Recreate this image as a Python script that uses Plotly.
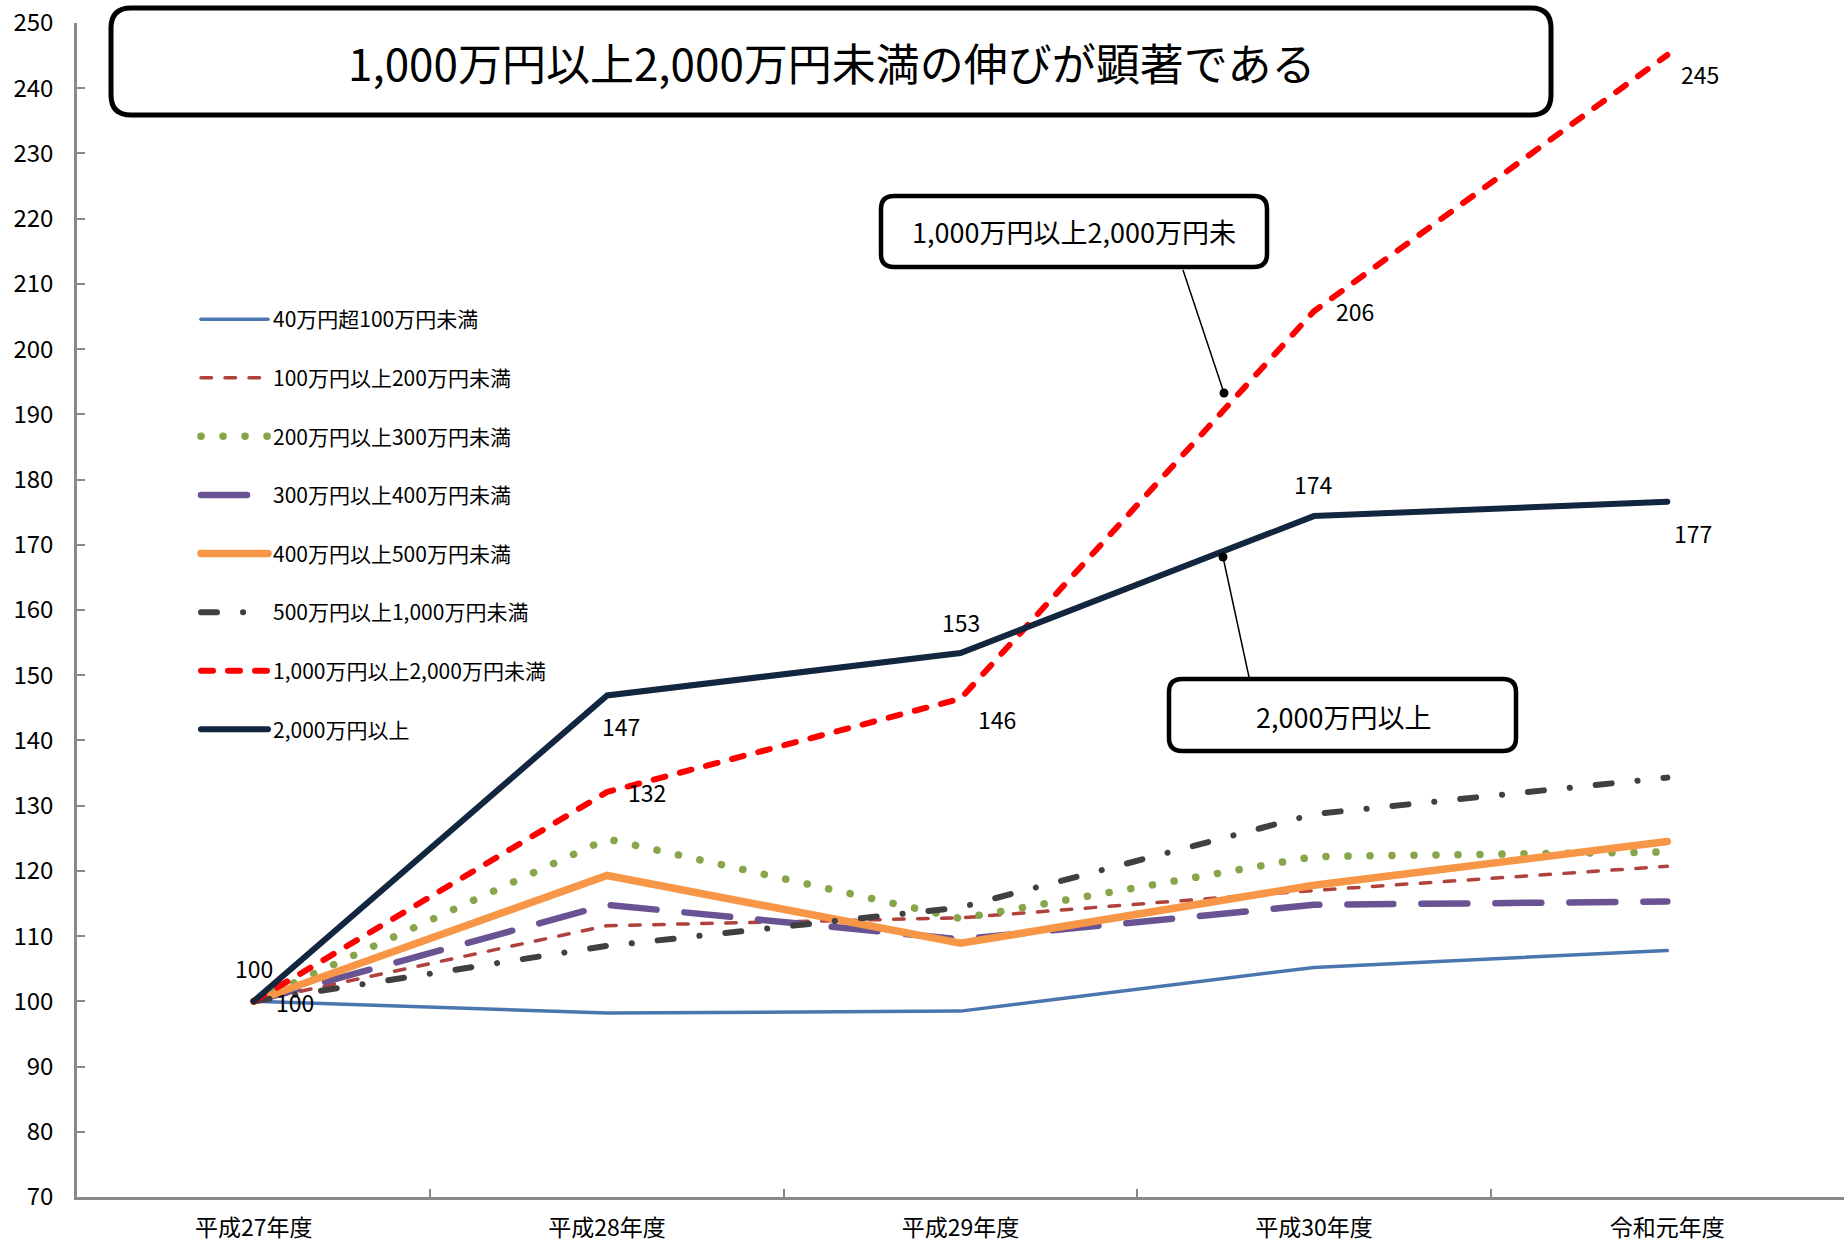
import plotly.graph_objects as go

# Fiscal years on the category axis
years = ["平成27年度", "平成28年度", "平成29年度", "平成30年度", "令和元年度"]

# Index (平成27年度 = 100) by income bracket
s_40_100 = [100, 98.2, 98.5, 105.2, 107.8]
s_100_200 = [100, 111.6, 112.8, 117.0, 120.7]
s_200_300 = [100, 124.9, 112.7, 122.2, 122.9]
s_300_400 = [100, 114.8, 109.5, 114.8, 115.3]
s_400_500 = [100, 119.3, 108.9, 117.8, 124.5]
s_500_1000 = [100, 108.5, 114.4, 128.7, 134.3]
s_1000_2000 = [100, 132.1, 146.4, 205.8, 245.1]
s_2000 = [100, 146.9, 153.4, 174.4, 176.6]

names = [
    "40万円超100万円未満",
    "100万円以上200万円未満",
    "200万円以上300万円未満",
    "300万円以上400万円未満",
    "400万円以上500万円未満",
    "500万円以上1,000万円未満",
    "1,000万円以上2,000万円未満",
    "2,000万円以上",
]
series = [s_40_100, s_100_200, s_200_300, s_300_400, s_400_500,
          s_500_1000, s_1000_2000, s_2000]

styles = [
    dict(color="#4A76B0", width=3.5, dash="solid"),
    dict(color="#B0423E", width=3.5, dash="10.5px,13.5px"),
    dict(color="#87A64A", width=7.5, dash="0.1px,21.9px"),
    dict(color="#6A5393", width=6.5, dash="46px,28px"),
    dict(color="#F79646", width=7.5, dash="solid"),
    dict(color="#404040", width=6, dash="16px,26px,0.1px,26px"),
    dict(color="#FF0000", width=6, dash="12px,15px"),
    dict(color="#12263F", width=6, dash="solid"),
]

# pixel offsets of the value labels for the two highest brackets
label_shift = {
    6: [(41, -1), (40, 0), (36, -20), (41, 0), (33, -19)],
    7: [(0, 33), (14, -31), (0, 31), (0, 32), (26, -31)],
}

FONT = "Noto Sans CJK JP"

fig = go.Figure()
for name, vals, st in zip(names, series, styles):
    fig.add_trace(go.Scatter(
        x=years, y=vals, name=name, legendgroup=name, mode="lines",
        line=dict(color=st["color"], width=st["width"], dash=st["dash"]),
        hoverinfo="skip"))

W, H = 1846, 1245
ML, MR, MT, MB = 77, 2, 23, 48
PW, PH = W - ML - MR, H - MT - MB


def px(x):
    return (x - ML) / PW


def py(y):
    return 1 - (y - MT) / PH


def rounded_box(x0, y0, x1, y1, r, lw):
    rx, ry = r / PW, r / PH
    a, b, c, d = px(x0), py(y0), px(x1), py(y1)
    path = (f"M{a+rx},{b} L{c-rx},{b} Q{c},{b} {c},{b-ry} "
            f"L{c},{d+ry} Q{c},{d} {c-rx},{d} "
            f"L{a+rx},{d} Q{a},{d} {a},{d+ry} "
            f"L{a},{b-ry} Q{a},{b} {a+rx},{b} Z")
    return dict(type="path", xref="paper", yref="paper", path=path,
                fillcolor="white", line=dict(color="black", width=lw),
                layer="above")


shapes = [
    rounded_box(111, 8, 1551, 115, 20, 5),
    rounded_box(881, 196, 1267, 267, 13, 4.5),
    rounded_box(1169, 679, 1516, 751, 13, 4.5),
    dict(type="line", xref="paper", yref="paper",
         x0=px(1183), y0=py(270), x1=px(1224), y1=py(393),
         line=dict(color="black", width=1.5)),
    dict(type="line", xref="paper", yref="paper",
         x0=px(1223), y0=py(557), x1=px(1249), y1=py(677),
         line=dict(color="black", width=1.5)),
    dict(type="circle", xref="paper", yref="paper",
         x0=px(1219.5), y0=py(388.5), x1=px(1228.5), y1=py(397.5),
         fillcolor="black", line=dict(color="black", width=0)),
    dict(type="circle", xref="paper", yref="paper",
         x0=px(1218.5), y0=py(552.5), x1=px(1227.5), y1=py(561.5),
         fillcolor="black", line=dict(color="black", width=0)),
]

annotations = [
    dict(xref="paper", yref="paper", x=px(831), y=py(62),
         text="1,000万円以上2,000万円未満の伸びが顕著である", showarrow=False,
         font=dict(family=FONT, size=44, color="#000000"),
         xanchor="center", yanchor="middle"),
    dict(xref="paper", yref="paper", x=px(1074), y=py(232),
         text="1,000万円以上2,000万円未", showarrow=False,
         font=dict(family=FONT, size=27, color="#000000"),
         xanchor="center", yanchor="middle"),
    dict(xref="paper", yref="paper", x=px(1343), y=py(716),
         text="2,000万円以上", showarrow=False,
         font=dict(family=FONT, size=27, color="#000000"),
         xanchor="center", yanchor="middle"),
]

# value labels, placed at each data point and formatted from its value
for idx, shifts in label_shift.items():
    for cat, val, (dx, dy) in zip(years, series[idx], shifts):
        annotations.append(dict(
            x=cat, y=val, xref="x", yref="y", text=f"{val:.0f}",
            showarrow=False, xshift=dx, yshift=dy,
            xanchor="center", yanchor="middle",
            font=dict(family=FONT, size=23, color="#000000")))

fig.update_layout(
    width=W, height=H,
    margin=dict(l=ML, r=MR, t=MT, b=MB, pad=0, autoexpand=False),
    paper_bgcolor="white", plot_bgcolor="white",
    font=dict(family=FONT, color="#000000"),
    showlegend=True,
    legend=dict(
        x=px(196), y=py(299), xanchor="left", yanchor="top",
        bgcolor="rgba(0,0,0,0)", borderwidth=0,
        font=dict(family=FONT, size=21, color="#000000"),
        itemwidth=67, tracegroupgap=28.3, traceorder="grouped",
    ),
    shapes=shapes,
    annotations=annotations,
    hovermode=False,
)

fig.update_xaxes(
    type="category", range=[-0.5, 4.5], automargin=False,
    showline=True, linecolor="#898989", linewidth=2.5,
    ticks="inside", tickson="boundaries", ticklen=8,
    tickcolor="#898989", tickwidth=2,
    showgrid=False, zeroline=False,
    tickfont=dict(family=FONT, size=23, color="#000000"),
    ticklabelstandoff=9,
)
fig.update_yaxes(
    range=[70, 250], dtick=10, tick0=70, automargin=False,
    showline=True, linecolor="#898989", linewidth=2.5,
    ticks="inside", ticklen=8, tickcolor="#898989", tickwidth=2,
    showgrid=False, zeroline=False,
    tickfont=dict(family=FONT, size=24, color="#000000"),
    ticklabelstandoff=16,
)

# round line caps give the dotted / dashed strokes their rounded ends
cap_css = ("var s=document.createElement('style');"
           "s.textContent='.js-line{stroke-linecap:round;}';"
           "document.head.appendChild(s);")

fig.write_html("out.html", post_script=cap_css,
               config={"displayModeBar": False})
